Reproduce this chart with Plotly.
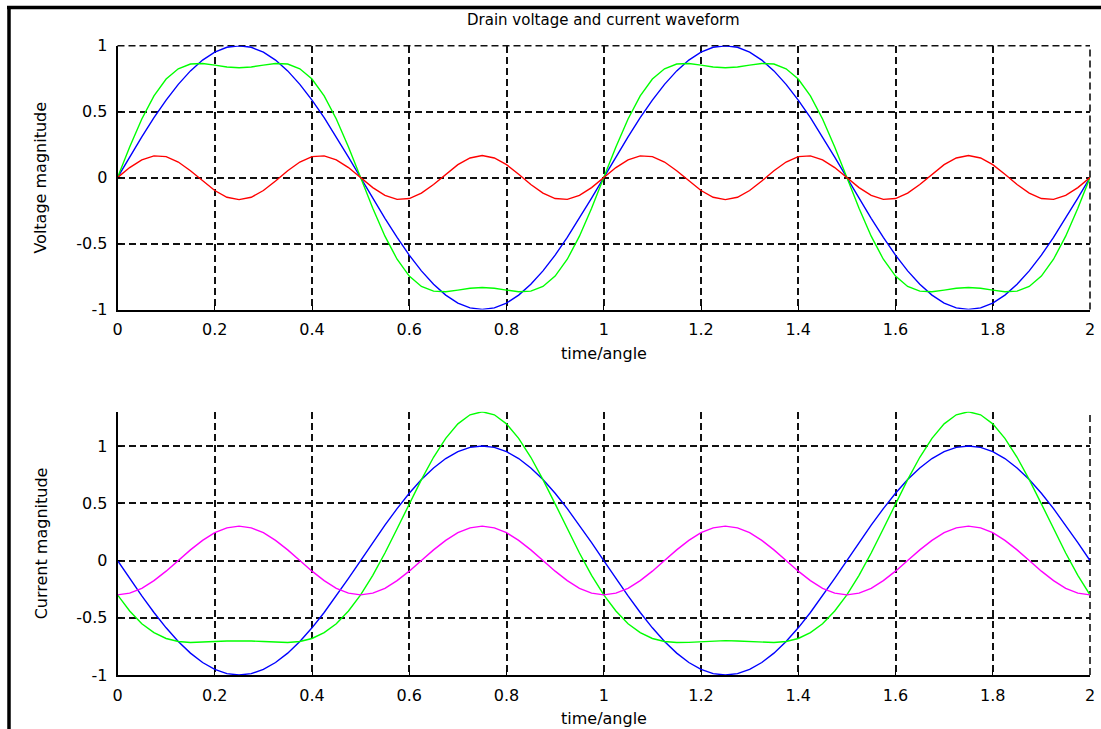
import plotly.graph_objects as go

# sample times (time/angle axis), step 0.025 from 0 to 2
time_angle = [round(i * 0.025, 3) for i in range(81)]

# ---- Drain voltage (top panel) ----
voltage_fund = [
    0.000, 0.156, 0.309, 0.454, 0.588, 0.707, 0.809, 0.891, 0.951, 0.988,
    1.000, 0.988, 0.951, 0.891, 0.809, 0.707, 0.588, 0.454, 0.309, 0.156,
    0.000, -0.156, -0.309, -0.454, -0.588, -0.707, -0.809, -0.891, -0.951, -0.988,
    -1.000, -0.988, -0.951, -0.891, -0.809, -0.707, -0.588, -0.454, -0.309, -0.156,
    0.000, 0.156, 0.309, 0.454, 0.588, 0.707, 0.809, 0.891, 0.951, 0.988,
    1.000, 0.988, 0.951, 0.891, 0.809, 0.707, 0.588, 0.454, 0.309, 0.156,
    0.000, -0.156, -0.309, -0.454, -0.588, -0.707, -0.809, -0.891, -0.951, -0.988,
    -1.000, -0.988, -0.951, -0.891, -0.809, -0.707, -0.588, -0.454, -0.309, -0.156,
    0.000,
]
voltage_third = [
    0.000, 0.076, 0.135, 0.165, 0.159, 0.118, 0.052, -0.026, -0.098, -0.149,
    -0.167, -0.149, -0.098, -0.026, 0.052, 0.118, 0.159, 0.165, 0.135, 0.076,
    0.000, -0.076, -0.135, -0.165, -0.159, -0.118, -0.052, 0.026, 0.098, 0.149,
    0.167, 0.149, 0.098, 0.026, -0.052, -0.118, -0.159, -0.165, -0.135, -0.076,
    0.000, 0.076, 0.135, 0.165, 0.159, 0.118, 0.052, -0.026, -0.098, -0.149,
    -0.167, -0.149, -0.098, -0.026, 0.052, 0.118, 0.159, 0.165, 0.135, 0.076,
    0.000, -0.076, -0.135, -0.165, -0.159, -0.118, -0.052, 0.026, 0.098, 0.149,
    0.167, 0.149, 0.098, 0.026, -0.052, -0.118, -0.159, -0.165, -0.135, -0.076,
    0.000,
]
voltage_total = [
    0.000, 0.232, 0.444, 0.619, 0.747, 0.825, 0.861, 0.865, 0.853, 0.839,
    0.833, 0.839, 0.853, 0.865, 0.861, 0.825, 0.747, 0.619, 0.444, 0.232,
    0.000, -0.232, -0.444, -0.619, -0.747, -0.825, -0.861, -0.865, -0.853, -0.839,
    -0.833, -0.839, -0.853, -0.865, -0.861, -0.825, -0.747, -0.619, -0.444, -0.232,
    0.000, 0.232, 0.444, 0.619, 0.747, 0.825, 0.861, 0.865, 0.853, 0.839,
    0.833, 0.839, 0.853, 0.865, 0.861, 0.825, 0.747, 0.619, 0.444, 0.232,
    0.000, -0.232, -0.444, -0.619, -0.747, -0.825, -0.861, -0.865, -0.853, -0.839,
    -0.833, -0.839, -0.853, -0.865, -0.861, -0.825, -0.747, -0.619, -0.444, -0.232,
    0.000,
]

# ---- Drain current (bottom panel) ----
current_fund = [
    0.000, -0.156, -0.309, -0.454, -0.588, -0.707, -0.809, -0.891, -0.951, -0.988,
    -1.000, -0.988, -0.951, -0.891, -0.809, -0.707, -0.588, -0.454, -0.309, -0.156,
    0.000, 0.156, 0.309, 0.454, 0.588, 0.707, 0.809, 0.891, 0.951, 0.988,
    1.000, 0.988, 0.951, 0.891, 0.809, 0.707, 0.588, 0.454, 0.309, 0.156,
    0.000, -0.156, -0.309, -0.454, -0.588, -0.707, -0.809, -0.891, -0.951, -0.988,
    -1.000, -0.988, -0.951, -0.891, -0.809, -0.707, -0.588, -0.454, -0.309, -0.156,
    0.000, 0.156, 0.309, 0.454, 0.588, 0.707, 0.809, 0.891, 0.951, 0.988,
    1.000, 0.988, 0.951, 0.891, 0.809, 0.707, 0.588, 0.454, 0.309, 0.156,
    0.000,
]
current_second = [
    -0.300, -0.285, -0.243, -0.176, -0.093, 0.000, 0.093, 0.176, 0.243, 0.285,
    0.300, 0.285, 0.243, 0.176, 0.093, 0.000, -0.093, -0.176, -0.243, -0.285,
    -0.300, -0.285, -0.243, -0.176, -0.093, 0.000, 0.093, 0.176, 0.243, 0.285,
    0.300, 0.285, 0.243, 0.176, 0.093, 0.000, -0.093, -0.176, -0.243, -0.285,
    -0.300, -0.285, -0.243, -0.176, -0.093, 0.000, 0.093, 0.176, 0.243, 0.285,
    0.300, 0.285, 0.243, 0.176, 0.093, 0.000, -0.093, -0.176, -0.243, -0.285,
    -0.300, -0.285, -0.243, -0.176, -0.093, 0.000, 0.093, 0.176, 0.243, 0.285,
    0.300, 0.285, 0.243, 0.176, 0.093, 0.000, -0.093, -0.176, -0.243, -0.285,
    -0.300,
]
current_total = [
    -0.300, -0.441, -0.552, -0.630, -0.681, -0.707, -0.716, -0.715, -0.708, -0.703,
    -0.700, -0.703, -0.708, -0.715, -0.716, -0.707, -0.681, -0.630, -0.552, -0.441,
    -0.300, -0.129, 0.066, 0.278, 0.495, 0.707, 0.902, 1.067, 1.194, 1.273,
    1.300, 1.273, 1.194, 1.067, 0.902, 0.707, 0.495, 0.278, 0.066, -0.129,
    -0.300, -0.441, -0.552, -0.630, -0.681, -0.707, -0.716, -0.715, -0.708, -0.703,
    -0.700, -0.703, -0.708, -0.715, -0.716, -0.707, -0.681, -0.630, -0.552, -0.441,
    -0.300, -0.129, 0.066, 0.278, 0.495, 0.707, 0.902, 1.067, 1.194, 1.273,
    1.300, 1.273, 1.194, 1.067, 0.902, 0.707, 0.495, 0.278, 0.066, -0.129,
    -0.300,
]

x_tickvals = [0, 0.2, 0.4, 0.6, 0.8, 1.0, 1.2, 1.4, 1.6, 1.8, 2.0]
x_ticktext = ["0", "0.2", "0.4", "0.6", "0.8", "1", "1.2", "1.4", "1.6", "1.8", "2"]
y_tickvals = [-1, -0.5, 0, 0.5, 1]
y_ticktext = ["-1", "-0.5", "0", "0.5", "1"]

title_text = "Drain voltage and current waveform"
x_label = "time/angle"
y_label_top = "Voltage magnitude"
y_label_bottom = "Current magnitude"

W, H = 1101, 729
FONT = "DejaVu Sans"
LW = 1.4
GRID_COLOR = "#111111"
GRID_W = 1.6
GRID_DASH = "7px,4px"

fig = go.Figure()
top = [(voltage_fund, "#0000FF"), (voltage_total, "#00FF00"), (voltage_third, "#FF0000")]
bot = [(current_fund, "#0000FF"), (current_total, "#00FF00"), (current_second, "#FF00FF")]
for ys, c in top:
    fig.add_trace(go.Scatter(x=time_angle, y=ys, mode="lines", line=dict(color=c, width=LW),
                             xaxis="x", yaxis="y", showlegend=False, hoverinfo="skip"))
for ys, c in bot:
    fig.add_trace(go.Scatter(x=time_angle, y=ys, mode="lines", line=dict(color=c, width=LW),
                             xaxis="x2", yaxis="y2", showlegend=False, hoverinfo="skip"))

xdom = [117.5 / W, 1090 / W]
ydom_top = [1 - 309.5 / H, 1 - 45.7 / H]
ydom_bot = [1 - 675 / H, 1 - 411.7 / H]

axis_common = dict(
    showgrid=True, gridcolor=GRID_COLOR, gridwidth=GRID_W, griddash=GRID_DASH,
    showline=True, linecolor="#000000", linewidth=1.5, mirror=False,
    ticks="inside", ticklen=5, tickcolor="#000000", tickwidth=1.2,
    zeroline=False, automargin=False,
    tickfont=dict(family=FONT, size=16, color="#000000"),
    ticklabelstandoff=5,
)

grid_line = dict(color=GRID_COLOR, width=GRID_W, dash=GRID_DASH)
edge_grid = [
    # gridlines sitting on the plot-area edges (plotly skips these); paper refs avoid clipping
    dict(type="line", xref="paper", yref="paper", x0=xdom[0], x1=xdom[1], y0=ydom_top[1], y1=ydom_top[1],
         line=grid_line, layer="below"),
    dict(type="line", xref="paper", yref="paper", x0=xdom[1], x1=xdom[1], y0=ydom_top[0], y1=ydom_top[1],
         line=grid_line, layer="below"),
    dict(type="line", xref="paper", yref="paper", x0=xdom[1], x1=xdom[1], y0=ydom_bot[0], y1=ydom_bot[1],
         line=grid_line, layer="below"),
]

fig.update_layout(
    width=W, height=H,
    margin=dict(l=0, r=0, t=0, b=0),
    paper_bgcolor="white", plot_bgcolor="white",
    xaxis=dict(domain=xdom, range=[0, 2], anchor="y", tickvals=x_tickvals, ticktext=x_ticktext,
               **axis_common),
    yaxis=dict(domain=ydom_top, range=[-1, 1], anchor="x", tickvals=y_tickvals, ticktext=y_ticktext,
               **axis_common),
    xaxis2=dict(domain=xdom, range=[0, 2], anchor="y2", tickvals=x_tickvals, ticktext=x_ticktext,
                **axis_common),
    yaxis2=dict(domain=ydom_bot, range=[-1, 1.3], anchor="x2", tickvals=y_tickvals, ticktext=y_ticktext,
                **axis_common),
    annotations=[
        dict(text=title_text, x=(xdom[0] + xdom[1]) / 2, y=1 - 20 / H, xref="paper", yref="paper",
             showarrow=False, xanchor="center", yanchor="middle",
             font=dict(family=FONT, size=15, color="#000000")),
        dict(text=x_label, x=(xdom[0] + xdom[1]) / 2, y=1 - 353 / H, xref="paper", yref="paper",
             showarrow=False, xanchor="center", yanchor="middle",
             font=dict(family=FONT, size=16, color="#000000")),
        dict(text=x_label, x=(xdom[0] + xdom[1]) / 2, y=1 - 718 / H, xref="paper", yref="paper",
             showarrow=False, xanchor="center", yanchor="middle",
             font=dict(family=FONT, size=16, color="#000000")),
        dict(text=y_label_top, x=41 / W, y=(ydom_top[0] + ydom_top[1]) / 2, xref="paper", yref="paper",
             showarrow=False, xanchor="center", yanchor="middle", textangle=-90,
             font=dict(family=FONT, size=16, color="#000000")),
        dict(text=y_label_bottom, x=41 / W, y=(ydom_bot[0] + ydom_bot[1]) / 2, xref="paper", yref="paper",
             showarrow=False, xanchor="center", yanchor="middle", textangle=-90,
             font=dict(family=FONT, size=16, color="#000000")),
    ],
    shapes=edge_grid + [
        dict(type="line", xref="paper", yref="paper", x0=7 / W, x1=1, y0=1 - 7.5 / H, y1=1 - 7.5 / H,
             line=dict(color="#000000", width=3.5)),
        dict(type="line", xref="paper", yref="paper", x0=9 / W, x1=9 / W, y0=0, y1=1 - 6 / H,
             line=dict(color="#000000", width=3.5)),
    ],
)

fig.write_html(
    "out.html",
    config={"displayModeBar": False},
    post_script="document.body.style.margin='0';document.body.style.padding='0';document.body.style.overflow='hidden';",
)
